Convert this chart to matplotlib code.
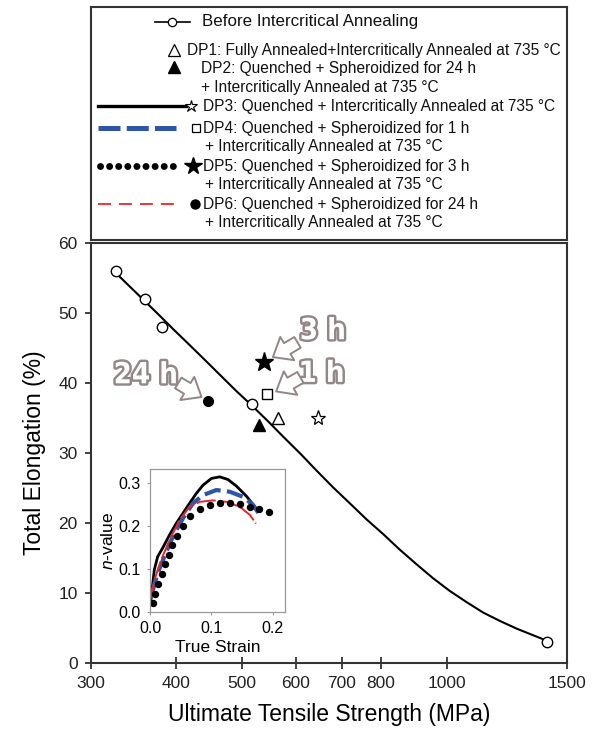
"""
Total elongation vs UTS with n-value inset
"""

import matplotlib
matplotlib.use("Agg")
import matplotlib.pyplot as plt
import matplotlib.patheffects as pe
from matplotlib.ticker import NullLocator

plt.rcParams['font.family'] = ['Liberation Sans', 'DejaVu Sans']
plt.rcParams['mathtext.fontset'] = 'custom'
plt.rcParams['mathtext.rm'] = 'Liberation Sans'
plt.rcParams['mathtext.it'] = 'Liberation Sans:italic'

# ---- main plot data ----
before_uts = [327, 360, 381, 517, 1400]
before_el = [56, 52, 48, 37, 3]

# trend line
fit_uts = [328, 352, 375, 397, 419, 444, 468, 491, 514, 545, 575, 609, 643,
           680, 720, 762, 806, 852, 902, 954, 1009, 1068, 1130, 1196, 1266, 1335, 1400]
fit_el = [55.5, 52.6, 50.0, 47.6, 45.4, 43.0, 40.8, 38.8, 37.0, 34.6, 32.3, 29.9, 27.5,
          25.1, 22.8, 20.5, 18.4, 16.2, 14.1, 12.1, 10.3, 8.7, 7.2, 6.0, 4.9, 4.0, 3.2]

dp_uts = {'DP1': 564, 'DP2': 529, 'DP3': 647, 'DP4': 544, 'DP5': 538, 'DP6': 446}
dp_el = {'DP1': 35, 'DP2': 34, 'DP3': 35, 'DP4': 38.5, 'DP5': 43, 'DP6': 37.5}

xticks = [300, 400, 500, 600, 700, 800, 1000, 1500]

# ---- inset data (n-value vs true strain) ----
dp3_strain = [0.0016, 0.007, 0.0125, 0.021, 0.0316, 0.0426, 0.0535, 0.0644, 0.0754,
              0.0862, 0.100, 0.1136, 0.127, 0.141, 0.157, 0.171]
dp3_n = [0.028, 0.098, 0.129, 0.150, 0.179, 0.206, 0.2295, 0.253, 0.276,
         0.295, 0.311, 0.3147, 0.3086, 0.293, 0.270, 0.245]

dp4_strain = [0.003, 0.0125, 0.0234, 0.037, 0.0535, 0.070, 0.0862, 0.108, 0.130,
              0.152, 0.168, 0.179]
dp4_n = [0.043, 0.090, 0.129, 0.175, 0.218, 0.253, 0.272, 0.284, 0.280,
         0.268, 0.249, 0.2256]

dp6_strain = [0.0, 0.007, 0.018, 0.0316, 0.048, 0.0644, 0.081, 0.1026, 0.1246,
              0.1464, 0.163, 0.1726]
dp6_n = [0.024, 0.074, 0.121, 0.167, 0.214, 0.245, 0.2565, 0.260, 0.2565,
         0.245, 0.2256, 0.206]

dp5_strain = [0.0043, 0.0082, 0.0136, 0.019, 0.025, 0.0305, 0.036, 0.0436, 0.0535,
              0.0656, 0.082, 0.097, 0.1136, 0.130, 0.1464, 0.163, 0.1775, 0.1944]
dp5_n = [0.020, 0.043, 0.065, 0.088, 0.111, 0.1326, 0.156, 0.177, 0.200,
         0.223, 0.2395, 0.249, 0.253, 0.253, 0.2504, 0.245, 0.240, 0.233]

BLUE = '#2f55a8'
RED = '#e8262a'
OUTLINE = '#928686'
W, H = 593, 737

fig = plt.figure(figsize=(W / 100, H / 100), dpi=100)

# ---------------- main axes ----------------
ax = fig.add_axes([91 / W, 74 / H, 476 / W, 420 / H])
ax.set_xscale('log')
ax.plot(fit_uts, fit_el, '-', color='k', lw=1.5, zorder=2)
ax.plot(before_uts, before_el, 'o', ls='none', mfc='white', mec='k', mew=1.0, ms=7.5, zorder=3)
ax.plot(dp_uts['DP1'], dp_el['DP1'], '^', mfc='white', mec='k', mew=1.0, ms=8.5, zorder=3)
ax.plot(dp_uts['DP2'], dp_el['DP2'], '^', color='k', ms=8.5, zorder=3)
ax.plot(dp_uts['DP3'], dp_el['DP3'], '*', mfc='white', mec='k', mew=0.9, ms=11, zorder=3)
ax.plot(dp_uts['DP4'], dp_el['DP4'], 's', mfc='white', mec='k', mew=1.0, ms=6.5, zorder=3)
ax.plot(dp_uts['DP5'], dp_el['DP5'], '*', color='k', ms=14, zorder=3)
ax.plot(dp_uts['DP6'], dp_el['DP6'], 'o', color='k', ms=7, zorder=3)

ax.set_xlim(300, 1500)
ax.set_ylim(0, 60)
ax.set_xticks(xticks)
ax.set_xticklabels([str(t) for t in xticks])
ax.xaxis.set_minor_locator(NullLocator())
ax.set_yticks(range(0, 61, 10))
ax.tick_params(axis='x', direction='inout', length=8, width=1.2, labelsize=12.5, pad=5, colors='#222')
ax.tick_params(axis='y', direction='out', length=4.5, width=1.2, labelsize=12.5, pad=5, colors='#222')
for s in ax.spines.values():
    s.set_color('#333')
    s.set_linewidth(1.5)
ax.set_xlabel('Ultimate Tensile Strength (MPa)', fontsize=16.5, labelpad=9)
ax.set_ylabel('Total Elongation (%)', fontsize=16.5, labelpad=9)

# outlined annotation labels + hollow arrows
fx = [pe.withStroke(linewidth=3.5, foreground=OUTLINE)]
lab_kw = dict(fontsize=21, fontweight='bold', fontstretch='condensed', color='white',
              ha='center', va='center', family=['DejaVu Sans'], path_effects=fx, zorder=5)
ax.text(657, 47.4, '3 h', **lab_kw)
ax.text(654, 41.3, '1 h', **lab_kw)
ax.text(361, 41.1, '24 h', **lab_kw)
arr = dict(arrowstyle='simple,head_length=0.8,head_width=1.3,tail_width=0.6',
           fc='white', ec=OUTLINE, lw=1.4, mutation_scale=15, shrinkA=0, shrinkB=0)
ax.annotate('', xy=(555, 43.7), xytext=(603, 45.8), arrowprops=arr, zorder=5)
ax.annotate('', xy=(561, 38.8), xytext=(609, 40.8), arrowprops=arr, zorder=5)
ax.annotate('', xy=(436, 38.0), xytext=(403, 40.0), arrowprops=arr, zorder=5)

# ---------------- inset ----------------
ins = fig.add_axes([150 / W, 125 / H, 135 / W, 143 / H])
ins.plot(dp3_strain, dp3_n, '-', color='k', lw=2.0)
ins.plot(dp4_strain, dp4_n, color=BLUE, lw=3.0, ls=(0, (4.0, 1.5)))
ins.plot(dp6_strain, dp6_n, color=RED, lw=1.4, ls=(0, (10, 1.5)))
ins.plot(dp5_strain, dp5_n, 'o', ls='none', color='k', ms=4.3)
ins.set_xlim(0, 0.22)
ins.set_ylim(0, 0.333)
ins.set_xticks([0.0, 0.1, 0.2])
ins.set_yticks([0.0, 0.1, 0.2, 0.3])
ins.tick_params(direction='out', length=2.5, width=0.8, color='#999', labelsize=11.5, pad=4)
for s in ins.spines.values():
    s.set_color('#999')
    s.set_linewidth(0.9)
ins.set_xlabel('True Strain', fontsize=12.5, labelpad=3)
ins.set_ylabel('$n$-value', fontsize=12.5, labelpad=2)

# ---------------- legend box (pixel coordinates) ----------------
leg = fig.add_axes([91 / W, 1 - 240 / H, 476 / W, 233 / H])
leg.set_xlim(91, 567)
leg.set_ylim(240, 7)
leg.set_xticks([])
leg.set_yticks([])
for s in leg.spines.values():
    s.set_color('#333')
    s.set_linewidth(1.5)

t_kw = dict(va='center', fontsize=11.2, color='#111')
leg.plot([155, 190], [21.5, 21.5], '-', color='k', lw=1.2)
leg.plot([172], [21.5], 'o', mfc='white', mec='k', mew=0.9, ms=6)
leg.text(202, 21.5, 'Before Intercritical Annealing', va='center', fontsize=12.2, color='#111')

leg.plot([174], [49.5], '^', mfc='white', mec='k', mew=0.9, ms=8)
leg.text(187, 50, 'DP1: Fully Annealed+Intercritically Annealed at 735 °C', **t_kw)

leg.plot([174], [66.5], '^', color='k', ms=8)
leg.text(201, 69, 'DP2: Quenched + Spheroidized for 24 h', **t_kw)
leg.text(201, 87.5, '+ Intercritically Annealed at 735 °C', **t_kw)

leg.plot([98, 186], [106, 106], '-', color='k', lw=2.4)
leg.plot([191], [106], '*', mfc='white', mec='k', mew=0.8, ms=9)
leg.text(203, 106, 'DP3: Quenched + Intercritically Annealed at 735 °C', **t_kw)

leg.plot([98, 176], [128, 128], color=BLUE, lw=3.6, ls=(0, (4.4, 1.25)))
leg.plot([196], [128], 's', mfc='white', mec='k', mew=0.9, ms=6)
leg.text(203, 128, 'DP4: Quenched + Spheroidized for 1 h', **t_kw)
leg.text(205, 146, '+ Intercritically Annealed at 735 °C', **t_kw)

leg.plot([100, 181], [166, 166], color='k', lw=5.0, ls=(0, (0.01, 1.3)),
         dash_capstyle='round')
leg.plot([193], [166], '*', color='k', ms=13)
leg.text(203, 166, 'DP5: Quenched + Spheroidized for 3 h', **t_kw)
leg.text(205, 184.5, '+ Intercritically Annealed at 735 °C', **t_kw)

leg.plot([98, 180], [204, 204], color=RED, lw=1.3, ls=(0, (7.2, 4.4)))
leg.plot([195], [204], 'o', color='k', ms=6.5)
leg.text(203, 204, 'DP6: Quenched + Spheroidized for 24 h', **t_kw)
leg.text(205, 222.5, '+ Intercritically Annealed at 735 °C', **t_kw)

fig.savefig('out.png', dpi=100)
